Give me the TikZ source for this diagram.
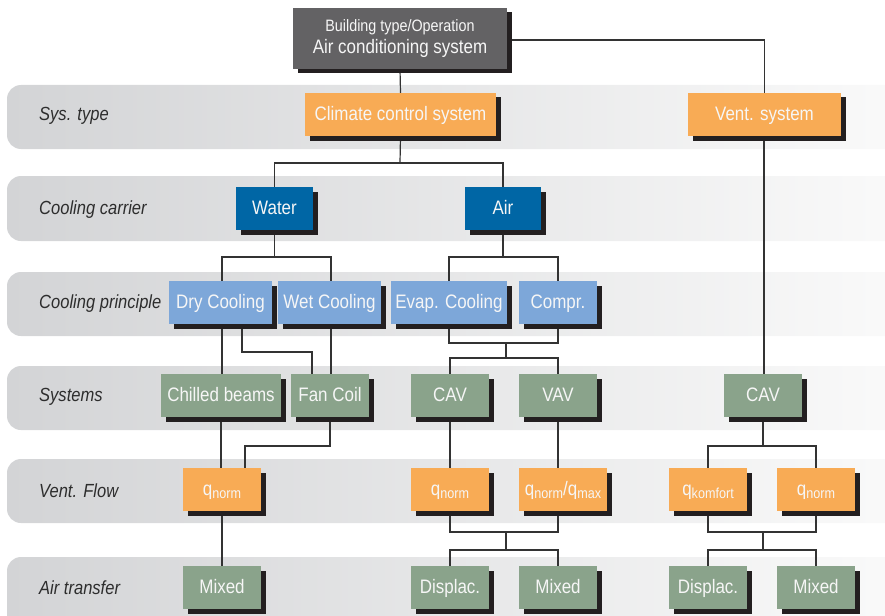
\documentclass[tikz,border=0pt]{standalone}
\usepackage{fontspec}
\setmainfont{Liberation Sans}[FakeStretch=0.87]
\usetikzlibrary{shadows}
\definecolor{topc}{HTML}{636264}
\definecolor{orangec}{HTML}{F8AB55}
\definecolor{bluec}{HTML}{0066A5}
\definecolor{lbluec}{HTML}{7DA7D9}
\definecolor{greenc}{HTML}{8AA38B}
\definecolor{shadowc}{HTML}{231F20}
\definecolor{boxtext}{HTML}{F6F6F6}
\definecolor{labelc}{HTML}{2D2D2D}
\definecolor{bandL}{HTML}{D3D4D6}
\definecolor{bandR}{HTML}{FAFAFA}
\definecolor{linec}{HTML}{333333}
\pgfdeclarelayer{bands}
\pgfdeclarelayer{lines}
\pgfsetlayers{bands,lines,main}
\newcommand\qsub[1]{q\raisebox{-0.3ex}{\fontsize{14.5}{14.5}\selectfont #1}}
\tikzset{
  box/.style={inner sep=0pt, minimum height=43pt, text=boxtext,
    font=\fontsize{19.5}{22}\selectfont, text height=16pt, text depth=4pt,
    drop shadow={shadow xshift=4.5pt, shadow yshift=-4.5pt, fill=shadowc, opacity=1}},
  orangebox/.style={box, fill=orangec},
  bluebox/.style={box, fill=bluec},
  lbluebox/.style={box, fill=lbluec},
  greenbox/.style={box, fill=greenc},
  rowlabel/.style={anchor=west, inner sep=0pt, text=labelc, font=\fontsize{19}{22}\selectfont\itshape},
  band/.style={left color=bandL, right color=bandR, rounded corners=14pt},
  conn/.style={draw=linec, line width=1.2pt}
}
\begin{document}
\begin{tikzpicture}[x=1pt,y=-1pt]
\useasboundingbox (0,0) rectangle (885,615);
% bands
\begin{pgfonlayer}{bands}
\shade[band] (7,85) rectangle (900,149);
\shade[band] (7,176) rectangle (900,241);
\shade[band] (7,272) rectangle (900,336);
\shade[band] (7,366) rectangle (900,430);
\shade[band] (7,459) rectangle (900,523);
\shade[band] (7,557) rectangle (900,640);
\end{pgfonlayer}
% row labels
\node[rowlabel] (l1) at (39,116) {Sys. type};
\node[rowlabel] (l2) at (39,210) {Cooling carrier};
\node[rowlabel] (l3) at (39,304) {Cooling principle};
\node[rowlabel] (l4) at (39,397) {Systems};
\node[rowlabel] (l5) at (39,491) {Vent. Flow};
\node[rowlabel] (l6) at (39,588) {Air transfer};
% boxes
\node[box, fill=topc, minimum width=214pt, minimum height=61pt, text height=, text depth=, align=center, font=\fontsize{19.5}{22}\selectfont]
  (top) at (400,38.5) {{\fontsize{16.5}{20}\selectfont Building type/Operation}\\Air conditioning system};
\node[orangebox, minimum width=191pt] (clim) at (400.5,114.5) {Climate control system};
\node[orangebox, minimum width=153pt] (vent) at (764.5,114.5) {Vent. system};
\node[bluebox, minimum width=77pt] (water) at (274.5,208.5) {Water};
\node[bluebox, minimum width=76pt] (air) at (503,208.5) {Air};
\node[lbluebox, minimum width=103pt] (dry) at (220.5,302.5) {Dry Cooling};
\node[lbluebox, minimum width=103pt] (wet) at (329.5,302.5) {Wet Cooling};
\node[lbluebox, minimum width=116pt] (evap) at (449,302.5) {Evap. Cooling};
\node[lbluebox, minimum width=78pt] (compr) at (558,302.5) {Compr.};
\node[greenbox, minimum width=120pt] (chil) at (221,395.5) {Chilled beams};
\node[greenbox, minimum width=78pt] (fan) at (330,395.5) {Fan Coil};
\node[greenbox, minimum width=78pt] (cav1) at (450,395.5) {CAV};
\node[greenbox, minimum width=78pt] (vav) at (558,395.5) {VAV};
\node[greenbox, minimum width=78pt] (cav2) at (763,395.5) {CAV};
\node[orangebox, minimum width=78pt] (qn1) at (222,489.5) {\qsub{norm}};
\node[orangebox, minimum width=78pt] (qn2) at (450,489.5) {\qsub{norm}};
\node[orangebox, minimum width=88pt] (qnm) at (563,489.5) {\qsub{norm}/\qsub{max}};
\node[orangebox, minimum width=78pt] (qk) at (708,489.5) {\qsub{komfort}};
\node[orangebox, minimum width=78pt] (qn3) at (816,489.5) {\qsub{norm}};
\node[greenbox, minimum width=78pt] (mix1) at (222,587.5) {Mixed};
\node[greenbox, minimum width=78pt] (dis2) at (450,587.5) {Displac.};
\node[greenbox, minimum width=78pt] (mix2) at (558,587.5) {Mixed};
\node[greenbox, minimum width=78pt] (dis3) at (708,587.5) {Displac.};
\node[greenbox, minimum width=78pt] (mix3) at (816,587.5) {Mixed};
% junctions
\coordinate (j1) at (400,163);
\coordinate (j2) at (274.5,257);
\coordinate (j3) at (503,257);
\coordinate (j4) at (277,352);
\coordinate (j5) at (506,343);
\coordinate (j6) at (506,358);
\coordinate (j7) at (300,446);
\coordinate (j8) at (763,446);
\coordinate (j9) at (506,532);
\coordinate (j10) at (506,550);
\coordinate (j11) at (763,532);
\coordinate (j12) at (763,550);
% connectors
\begin{pgfonlayer}{lines}
\draw[conn] (top.south) -- (clim.north);
\draw[conn] ([yshift=-1.5pt]top.east) -| (vent.north);
\draw[conn] (clim.south) -- (j1);
\draw[conn] (water.north) |- (j1) -| (air.north);
\draw[conn] (water.south) -- (j2);
\draw[conn] ([xshift=1.5pt]dry.north) |- (j2) -| ([xshift=1.5pt]wet.north);
\draw[conn] (air.south) -- (j3);
\draw[conn] (evap.north) |- (j3) -| (compr.north);
\draw[conn] ([xshift=1.5pt]dry.south) -- ([xshift=1.5pt]dry.south |- chil.north);
\draw[conn] ([xshift=21.5pt]dry.south) |- (j4) -| ([xshift=-18pt]fan.north);
\draw[conn] ([xshift=1.5pt]wet.south) -- ([xshift=1.5pt]wet.south |- fan.north);
\draw[conn] (evap.south) |- (j5) -| (compr.south);
\draw[conn] (j5) -- (j6);
\draw[conn] (cav1.north) |- (j6) -| (vav.north);
\draw[conn] ([xshift=-0.5pt]vent.south) -- ([xshift=-0.5pt]vent.south |- cav2.north);
\draw[conn] (chil.south) -- (chil.south |- qn1.north);
\draw[conn] (fan.south) |- (j7) -| ([xshift=23pt]qn1.north);
\draw[conn] (cav1.south) -- (qn2.north);
\draw[conn] (vav.south) -- (vav.south |- qnm.north);
\draw[conn] (cav2.south) -- (j8);
\draw[conn] (qk.north) |- (j8) -| (qn3.north);
\draw[conn] (qn1.south) -- (mix1.north);
\draw[conn] (qn2.south) |- (j9) -| (vav.south |- qnm.south);
\draw[conn] (j9) -- (j10);
\draw[conn] (dis2.north) |- (j10) -| (mix2.north);
\draw[conn] (qk.south) |- (j11) -| (qn3.south);
\draw[conn] (j11) -- (j12);
\draw[conn] (dis3.north) |- (j12) -| (mix3.north);
\end{pgfonlayer}
\end{tikzpicture}
\end{document}
